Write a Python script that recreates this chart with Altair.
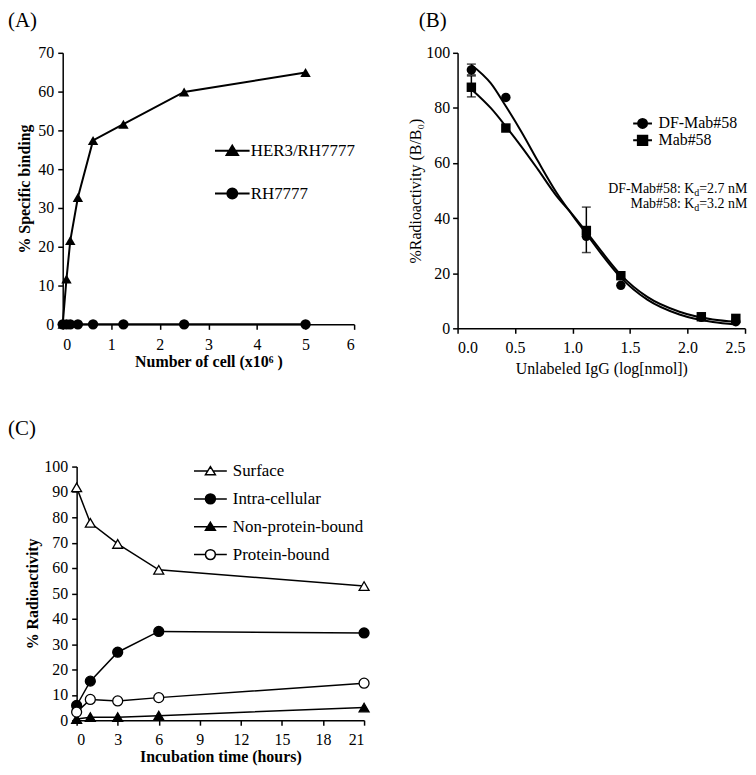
import altair as alt
import pandas as pd

SERIF = "Liberation Serif"

# ---------------- Panel A : specific binding vs number of cells ----------------
a_cells = [0, 0.078, 0.156, 0.3125, 0.625, 1.25, 2.5, 5]
a_her3 = [0, 11.7, 21.6, 32.7, 47.4, 51.6, 59.9, 64.9]
a_rh7777 = [0, 0, 0, 0, 0, 0, 0, 0]
a_series = ["HER3/RH7777", "RH7777"]

# ---------------- Panel B : competition binding ----------------
b_logx = [0.12, 0.42, 1.12, 1.42, 2.12, 2.42]
b_df = [93.8, 83.8, 33.4, 15.6, 4.0, 2.4]
b_mab = [87.5, 72.7, 35.5, 19.1, 4.2, 3.6]
b_series = ["DF-Mab#58", "Mab#58"]
b_err_x = [0.12, 0.12, 1.12]
b_err_series = ["DF-Mab#58", "Mab#58", "Mab#58"]
b_err_low = [92.0, 84.0, 27.5]
b_err_high = [95.9, 91.6, 44.0]
# fitted curves
b_fit_x = [0.12, 0.29, 0.42, 0.56, 0.70, 0.86, 1.00, 1.12, 1.25, 1.42, 1.65, 1.93, 2.22, 2.42]
b_fit_df = [95.6, 88.9, 80.6, 71.0, 60.6, 49.3, 41.0, 34.3, 27.0, 18.4, 10.4, 5.0, 2.3, 1.4]
b_fit_mab = [86.8, 79.9, 73.3, 65.7, 57.6, 48.1, 41.3, 35.0, 28.0, 19.4, 11.4, 6.0, 3.2, 2.4]
b_kd_names = ["DF-Mab#58: K", "Mab#58: K"]
b_kd_values = ["=2.7 nM", "=3.2 nM"]

# ---------------- Panel C : time course ----------------
c_hours = [0, 1, 3, 6, 21]
c_surface = [91.8, 77.8, 69.5, 59.3, 52.9]
c_intra = [5.8, 15.4, 26.8, 35.0, 34.4]
c_nonprot = [0.5, 1.2, 1.2, 1.8, 5.0]
c_prot = [3.2, 8.2, 7.6, 8.9, 14.6]
c_series = ["Surface", "Intra-cellular", "Non-protein-bound", "Protein-bound"]

panel_labels = ["(A)", "(B)", "(C)"]

# legend glyphs (line segment + marker)
TRI_A = "M-2.9,0L-0.5,0M0.5,0L2.9,0M0,-0.85L0.95,0.7L-0.95,0.7Z"
CIR_A = "M-2.9,0L-0.83,0M0.83,0L2.9,0M0.83,0A0.83,0.83,0,1,1,-0.83,0A0.83,0.83,0,1,1,0.83,0Z"
CIR_B = "M-2.1,0L-1,0M1,0L2.1,0M1,0A1,1,0,1,1,-1,0A1,1,0,1,1,1,0Z"
SQU_B = "M-2.1,0L-1.05,0M1.05,0L2.1,0M-1.05,-1.05L1.05,-1.05L1.05,1.05L-1.05,1.05Z"
TRI_C = "M-2.75,0L-0.46,0M0.46,0L2.75,0M0,-0.75L0.83,0.6L-0.83,0.6Z"
CIR_C = "M-2.75,0L-0.83,0M0.83,0L2.75,0M0.83,0A0.83,0.83,0,1,1,-0.83,0A0.83,0.83,0,1,1,0.83,0Z"

dummy = pd.DataFrame({"k": [0]})


def panel_label(text, dx, dy):
    return alt.Chart(dummy).mark_text(align="left", baseline="top", font=SERIF, fontSize=21,
                                      color="black").encode(
        x=alt.value(dx), y=alt.value(dy), text=alt.value(text))


def legend_layer(df, series, paths, fills, props, size, sw):
    leg = alt.Legend(**props)
    return alt.Chart(df).transform_filter("false").mark_point(
        filled=False, strokeWidth=sw, opacity=1, size=size
    ).encode(
        shape=alt.Shape("series:N", scale=alt.Scale(domain=series, range=paths), legend=leg),
        fill=alt.Fill("series:N", scale=alt.Scale(domain=series, range=fills), legend=leg),
        stroke=alt.Stroke("series:N", scale=alt.Scale(domain=series, range=["black"] * len(series)),
                          legend=leg),
    )


# ======================= Panel A =======================
dfA = pd.DataFrame({
    "x": a_cells + a_cells,
    "y": a_her3 + a_rh7777,
    "series": [a_series[0]] * len(a_cells) + [a_series[1]] * len(a_cells),
})
xA = alt.X("x:Q", scale=alt.Scale(domain=[0, 6], nice=False),
           axis=alt.Axis(values=[0, 1, 2, 3, 4, 5, 6], title="Number of cell (x10\u2076 )",
                         titleFontWeight="bold", labelPadding=7, titlePadding=1))
yA = alt.Y("y:Q", scale=alt.Scale(domain=[0, 70], nice=False),
           axis=alt.Axis(values=list(range(0, 71, 10)), title="% Specific binding",
                         titleFontWeight="bold", labelPadding=4, titlePadding=5))
lineA = alt.Chart(dfA).mark_line(color="black", strokeWidth=2).encode(xA, yA, detail="series:N")
ptsA = alt.Chart(dfA).mark_point(filled=True, color="black", opacity=1, size=110).encode(
    xA, yA,
    shape=alt.Shape("series:N", scale=alt.Scale(domain=a_series, range=["triangle-up", "circle"]), legend=None),
)
legA = legend_layer(dfA, a_series, [TRI_A, CIR_A], ["black", "black"],
                    dict(orient="none", legendX=162, legendY=90, title=None, labelFont=SERIF,
                         labelFontSize=17, symbolSize=144, symbolStrokeWidth=2,
                         labelOffset=10, rowPadding=25, padding=0), 144, 2)
chartA = alt.layer(lineA, ptsA, legA, panel_label(panel_labels[0], -55, -43)).resolve_scale(
    shape="independent", fill="independent", stroke="independent").properties(width=293, height=273)

# ======================= Panel B =======================
nB = len(b_logx)
dfB = pd.DataFrame({
    "x": b_logx + b_logx,
    "y": b_df + b_mab,
    "series": [b_series[0]] * nB + [b_series[1]] * nB,
})
nF = len(b_fit_x)
dfBfit = pd.DataFrame({
    "x": b_fit_x + b_fit_x,
    "y": b_fit_df + b_fit_mab,
    "series": [b_series[0]] * nF + [b_series[1]] * nF,
})
dfBerr = pd.DataFrame({"x": b_err_x, "lo": b_err_low, "hi": b_err_high, "series": b_err_series})
dfBcap = pd.DataFrame({"x": b_err_x + b_err_x, "y": b_err_low + b_err_high})

xB = alt.X("x:Q", scale=alt.Scale(domain=[0, 2.5], nice=False),
           axis=alt.Axis(values=[0, 0.5, 1.0, 1.5, 2.0, 2.5], format=".1f",
                         title="Unlabeled IgG (log[nmol])", titleFontWeight="normal",
                         labelPadding=6, titlePadding=5))
yB = alt.Y("y:Q", scale=alt.Scale(domain=[0, 100], nice=False),
           axis=alt.Axis(values=[0, 20, 40, 60, 80, 100], title="%Radioactivity (B/B\u2080)",
                         titleFontWeight="normal", labelPadding=3, titlePadding=2))
fitB = alt.Chart(dfBfit).mark_line(color="black", strokeWidth=2, interpolate="monotone").encode(
    xB, yB, detail="series:N")
errB = alt.Chart(dfBerr).mark_rule(color="black", strokeWidth=1.5).encode(
    x="x:Q", y="lo:Q", y2="hi:Q")
capB = alt.Chart(dfBcap).mark_tick(color="black", thickness=1.5, size=9, orient="horizontal").encode(
    x="x:Q", y="y:Q")
ptsB = alt.Chart(dfB).mark_point(filled=True, color="black", opacity=1, size=90).encode(
    xB, yB,
    shape=alt.Shape("series:N", scale=alt.Scale(domain=b_series, range=["circle", "square"]), legend=None),
)
legB = legend_layer(dfB, b_series, [CIR_B, SQU_B], ["black", "black"],
                    dict(orient="none", legendX=178, legendY=63, title=None, labelFont=SERIF,
                         labelFontSize=16, symbolSize=81, symbolStrokeWidth=2,
                         labelOffset=8, rowPadding=-3, padding=0), 81, 2)
kd1 = alt.Chart(dummy).mark_text(align="right", baseline="top", font=SERIF, fontSize=14,
                                 lineHeight=15, color="black").encode(
    x=alt.value(238), y=alt.value(130), text=alt.value(b_kd_names))
kd2 = alt.Chart(dummy).mark_text(align="left", baseline="top", font=SERIF, fontSize=10,
                                 lineHeight=15, color="black").encode(
    x=alt.value(238), y=alt.value(136), text=alt.value(["d", "d"]))
kd3 = alt.Chart(dummy).mark_text(align="left", baseline="top", font=SERIF, fontSize=14,
                                 lineHeight=15, color="black").encode(
    x=alt.value(243), y=alt.value(130), text=alt.value(b_kd_values))
chartB = alt.layer(fitB, errB, capB, ptsB, legB, kd1, kd2, kd3,
                   panel_label(panel_labels[1], -39, -43)).resolve_scale(
    shape="independent", fill="independent", stroke="independent").properties(width=289, height=277)

# ======================= Panel C =======================
# the plot area starts 14px left of the y axis so that C's axis sits further right than A's
C_SHIFT = 14
nC = len(c_hours)
dfC = pd.DataFrame({
    "x": c_hours * 4,
    "y": c_surface + c_intra + c_nonprot + c_prot,
    "series": sum([[s] * nC for s in c_series], []),
})
xC = alt.X("x:Q", scale=alt.Scale(domain=[0, 21], nice=False, range=[C_SHIFT, C_SHIFT + 289]),
           axis=alt.Axis(values=[0, 3, 6, 9, 12, 15, 18, 21], title="Incubation time (hours)",
                         titleFontWeight="bold", labelPadding=6, titlePadding=2))
yC = alt.Y("y:Q", scale=alt.Scale(domain=[0, 100], nice=False),
           axis=alt.Axis(values=list(range(0, 101, 10)), title="% Radioactivity", offset=-C_SHIFT,
                         titleFontWeight="bold", labelPadding=4, titlePadding=3))
lineC = alt.Chart(dfC).mark_line(color="black", strokeWidth=1.5).encode(xC, yC, detail="series:N")
ptsC = alt.Chart(dfC).mark_point(filled=False, stroke="black", strokeWidth=1.3, opacity=1, size=100).encode(
    xC, yC,
    shape=alt.Shape("series:N", scale=alt.Scale(domain=c_series,
                    range=["triangle-up", "circle", "triangle-up", "circle"]), legend=None),
    fill=alt.Fill("series:N", scale=alt.Scale(domain=c_series,
                  range=["white", "black", "black", "white"]), legend=None),
)
legC = legend_layer(dfC, c_series, [TRI_C, CIR_C, TRI_C, CIR_C], ["white", "black", "black", "white"],
                    dict(orient="none", legendX=126 + C_SHIFT, legendY=-4, title=None, labelFont=SERIF,
                         labelFontSize=17, symbolSize=144, symbolStrokeWidth=1.5,
                         labelOffset=14, rowPadding=10, padding=0), 144, 1.5)
chartC = alt.layer(lineC, ptsC, legC, panel_label(panel_labels[2], -69 + C_SHIFT, -49)).resolve_scale(
    shape="independent", fill="independent", stroke="independent").properties(
    width=289 + C_SHIFT, height=255)

chart = alt.concat(
    chartA, chartB, chartC,
    columns=2,
    spacing={"row": 42, "column": 36},
).properties(padding={"left": 0, "top": 0, "right": 0, "bottom": 0}, align="each").configure_view(
    stroke=None
).configure_axis(
    grid=False, domainColor="black", tickColor="black", domainWidth=1.5, tickWidth=1.5,
    tickSize=5, labelColor="black", titleColor="black", labelFont=SERIF, titleFont=SERIF,
    labelFontSize=16, titleFontSize=16,
)

chart.save("out.html", embed_options={"renderer": "svg", "actions": False})
